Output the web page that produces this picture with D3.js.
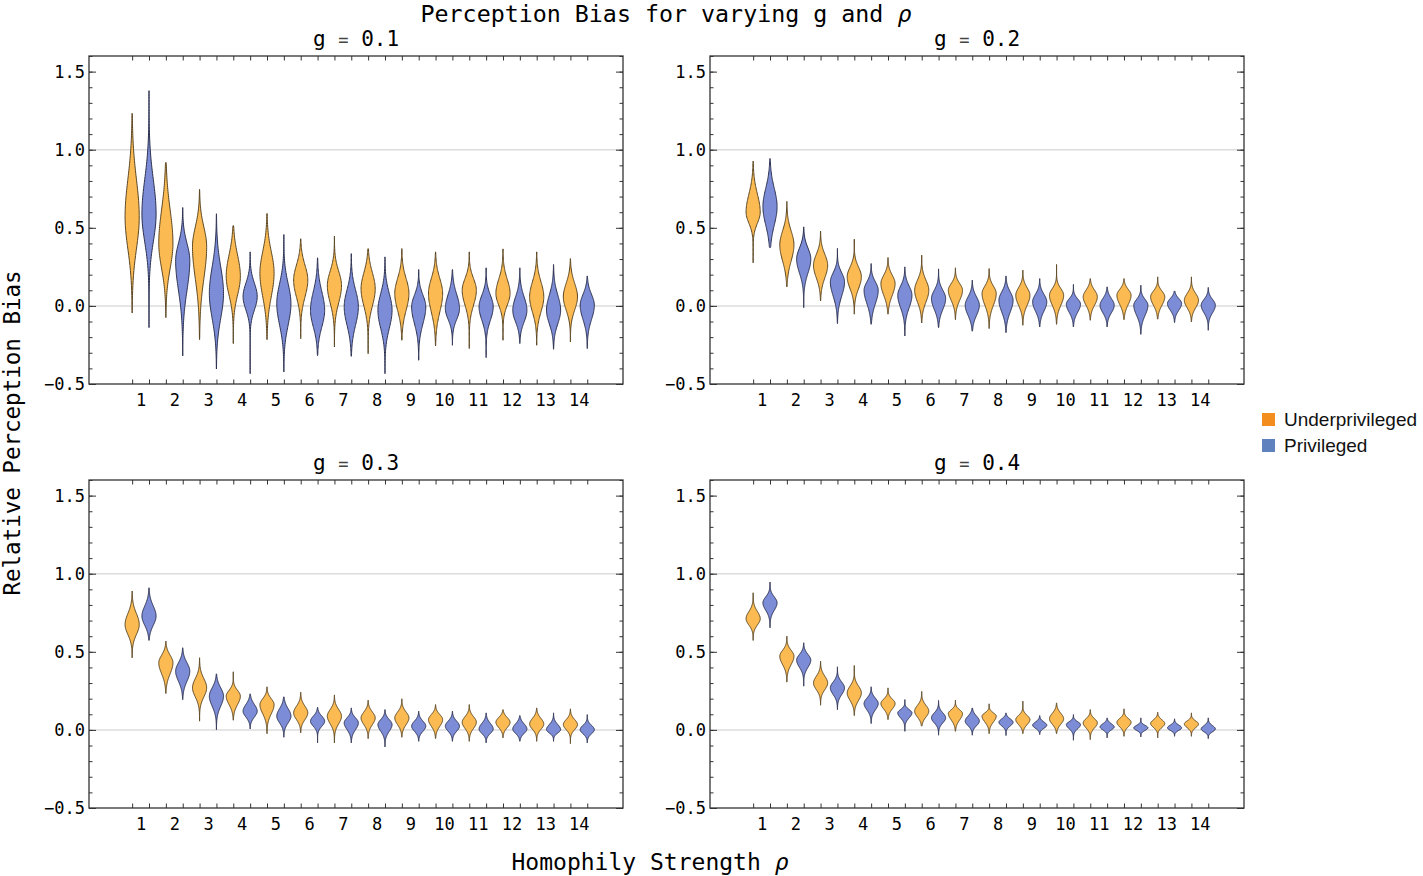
<!DOCTYPE html>
<html><head><meta charset="utf-8">
<script src="https://cdn.jsdelivr.net/npm/d3@7"></script>
<style>body{margin:0;background:#fff} svg{display:block}</style>
</head><body><svg id="c" width="1423" height="876"></svg>
<script>
// ---- data: each violin = [min, bodyLow, mode, bodyHigh, max] ----
const categories = [1,2,3,4,5,6,7,8,9,10,11,12,13,14];
const gValues = ["0.1","0.2","0.3","0.4"];
const seriesNames = ["Underprivileged","Privileged"];
const yTicks = [-0.5,0,0.5,1,1.5];

const g01Under = [[-0.045,0.16,0.57,1.05,1.233],[-0.075,0.08,0.40,0.83,0.919],[-0.216,-0.03,0.38,0.63,0.746],[-0.241,-0.05,0.19,0.46,0.515],[-0.216,-0.09,0.21,0.485,0.592],[-0.21,-0.05,0.165,0.357,0.43],[-0.263,-0.09,0.13,0.314,0.447],[-0.306,-0.11,0.11,0.314,0.367],[-0.22,-0.135,0.08,0.27,0.367],[-0.256,-0.156,0.08,0.27,0.346],[-0.273,-0.09,0.10,0.25,0.346],[-0.22,-0.07,0.08,0.26,0.365],[-0.252,-0.135,0.058,0.25,0.346],[-0.23,-0.11,0.058,0.23,0.303]];
const g01Priv = [[-0.139,0.23,0.59,1.03,1.378],[-0.32,-0.09,0.29,0.51,0.63],[-0.404,-0.24,0.08,0.42,0.59],[-0.434,-0.11,0.06,0.23,0.346],[-0.423,-0.26,0.015,0.27,0.457],[-0.318,-0.24,-0.028,0.21,0.308],[-0.323,-0.24,-0.006,0.21,0.335],[-0.434,-0.26,-0.028,0.186,0.314],[-0.348,-0.22,-0.006,0.143,0.233],[-0.252,-0.156,-0.017,0.165,0.233],[-0.331,-0.177,-0.006,0.143,0.244],[-0.241,-0.177,-0.028,0.143,0.244],[-0.278,-0.2,-0.028,0.165,0.265],[-0.273,-0.177,0.004,0.143,0.192]];
const g02Under = [[0.276,0.46,0.60,0.83,0.927],[0.122,0.186,0.39,0.57,0.669],[0.032,0.10,0.26,0.40,0.479],[-0.053,0.036,0.186,0.31,0.427],[-0.053,-0.006,0.143,0.25,0.31],[-0.109,-0.049,0.10,0.229,0.325],[-0.088,-0.028,0.10,0.186,0.244],[-0.145,-0.07,0.079,0.175,0.239],[-0.124,-0.06,0.068,0.165,0.229],[-0.118,-0.06,0.068,0.154,0.265],[-0.092,-0.049,0.058,0.143,0.175],[-0.088,-0.049,0.068,0.143,0.175],[-0.085,-0.049,0.058,0.132,0.186],[-0.103,-0.06,0.036,0.122,0.186]];
const g02Priv = [[0.372,0.40,0.635,0.87,0.944],[-0.011,0.122,0.30,0.44,0.506],[-0.113,-0.028,0.154,0.27,0.368],[-0.118,-0.07,0.10,0.207,0.271],[-0.192,-0.092,0.068,0.186,0.25],[-0.139,-0.092,0.047,0.154,0.237],[-0.162,-0.124,0.004,0.111,0.165],[-0.171,-0.113,0.036,0.143,0.192],[-0.135,-0.092,0.026,0.122,0.175],[-0.135,-0.092,0.011,0.079,0.137],[-0.135,-0.092,0.004,0.09,0.122],[-0.182,-0.124,0.004,0.079,0.132],[-0.107,-0.07,0.015,0.079,0.096],[-0.156,-0.092,0.004,0.079,0.118]];
const g03Under = [[0.462,0.547,0.675,0.814,0.889],[0.233,0.29,0.43,0.526,0.568],[0.056,0.152,0.27,0.387,0.462],[0.062,0.109,0.216,0.29,0.372],[-0.024,0.045,0.162,0.237,0.276],[-0.019,0.024,0.109,0.194,0.241],[-0.083,-0.009,0.088,0.173,0.224],[-0.056,-0.009,0.077,0.152,0.19],[-0.047,-0.009,0.077,0.152,0.199],[-0.056,-0.019,0.066,0.13,0.162],[-0.073,-0.03,0.049,0.12,0.162],[-0.051,-0.019,0.049,0.109,0.13],[-0.073,-0.03,0.038,0.109,0.141],[-0.088,-0.03,0.034,0.098,0.135]];
const g03Priv = [[0.573,0.611,0.729,0.857,0.91],[0.194,0.248,0.376,0.483,0.526],[0.002,0.088,0.216,0.323,0.359],[0.006,0.045,0.12,0.205,0.231],[-0.047,0.002,0.088,0.184,0.212],[-0.083,-0.009,0.056,0.12,0.145],[-0.083,-0.041,0.045,0.109,0.141],[-0.109,-0.051,0.034,0.098,0.13],[-0.073,-0.041,0.024,0.088,0.12],[-0.073,-0.041,0.024,0.088,0.12],[-0.083,-0.051,0.006,0.077,0.109],[-0.073,-0.051,0.006,0.071,0.092],[-0.073,-0.041,0.002,0.066,0.109],[-0.083,-0.051,0.002,0.056,0.098]];
const g04Under = [[0.573,0.632,0.712,0.803,0.878],[0.306,0.365,0.472,0.547,0.60],[0.158,0.216,0.30,0.387,0.44],[0.092,0.141,0.237,0.323,0.412],[0.066,0.098,0.169,0.226,0.269],[0.024,0.045,0.12,0.194,0.246],[-0.009,0.024,0.105,0.152,0.19],[-0.024,0.013,0.088,0.13,0.167],[-0.024,0.002,0.066,0.12,0.184],[-0.024,0.002,0.071,0.141,0.173],[-0.062,-0.019,0.045,0.098,0.13],[-0.041,-0.009,0.049,0.098,0.135],[-0.051,-0.009,0.041,0.088,0.113],[-0.041,-0.009,0.038,0.077,0.109]];
const g04Priv = [[0.654,0.718,0.814,0.889,0.947],[0.28,0.355,0.447,0.519,0.558],[0.13,0.184,0.269,0.344,0.404],[0.041,0.088,0.169,0.237,0.276],[-0.009,0.045,0.109,0.152,0.194],[-0.034,0.013,0.077,0.141,0.188],[-0.034,-0.002,0.056,0.12,0.141],[-0.036,0.002,0.049,0.092,0.109],[-0.03,-0.009,0.03,0.071,0.092],[-0.066,-0.019,0.034,0.071,0.098],[-0.051,-0.019,0.019,0.06,0.077],[-0.045,-0.019,0.013,0.045,0.077],[-0.041,-0.019,0.013,0.049,0.071],[-0.056,-0.03,0.006,0.049,0.077]];

const panelData = [[g01Under,g01Priv],[g02Under,g02Priv],[g03Under,g03Priv],[g04Under,g04Priv]];

// ---- layout / style ----
const svg = d3.select("#c");
const mono = "'DejaVu Sans Mono', monospace";
const fillCol = ["#FBBB52","#7C8CD6"];
const strokeCol = ["#5a4522","#2c3150"];
const legendCol = ["#F38E1E","#5F81BD"];
const colX = [89, 710], rowY = [56, 480];
const PW = 534, PH = 328;
const offsets = [-0.25, 0.25];
const halfW = 0.21; // in x units

panelData.forEach((pd, pi) => {
  const left = colX[pi % 2], top = rowY[Math.floor(pi / 2)];
  const x = d3.scaleLinear().domain([-0.53, 15.31]).range([left, left + PW]);
  const y = d3.scaleLinear().domain([-0.5, 1.6]).range([top + PH, top]);
  const g = svg.append("g");

  // gridlines
  g.selectAll("line.grid").data([0, 1]).join("line")
    .attr("x1", left).attr("x2", left + PW)
    .attr("y1", d => y(d)).attr("y2", d => y(d))
    .attr("stroke", "#dcdcdc").attr("stroke-width", 1.5);

  // violins
  pd.forEach((series, si) => {
    series.forEach((v, ci) => {
      const [mn, lo, md, hi, mx] = v;
      const cx = categories[ci] + offsets[si];
      const n = 80;
      const pts = d3.range(n + 1).map(k => {
        const yy = mn + (mx - mn) * k / n;
        const t = yy >= md ? (yy - md) / (hi - md) : (md - yy) / (md - lo);
        let w = Math.exp(-2.0 * Math.pow(t, 2));
        if (k === 0 || k === n) w = 0;
        return [yy, w];
      });
      const area = d3.area()
        .y(d => y(d[0]))
        .x0(d => x(cx - halfW * d[1]))
        .x1(d => x(cx + halfW * d[1]))
        .curve(d3.curveLinear);
      g.append("path").attr("d", area(pts))
        .attr("fill", fillCol[si]).attr("stroke", strokeCol[si])
        .attr("stroke-width", 1).attr("stroke-linejoin", "round");
    });
  });

  // ticks
  const violinPos = [];
  categories.forEach(c => offsets.forEach(o => violinPos.push(c + o)));
  const minorY = d3.range(-5, 17).map(k => k / 10);
  const styleAxis = sel => {
    sel.select(".domain").remove();
    sel.selectAll(".tick line").attr("stroke", "#333").attr("stroke-width", 1);
  };
  g.append("g").attr("transform", `translate(0,${top + PH})`)
    .call(d3.axisBottom(x).tickValues(violinPos).tickSize(-4.5).tickFormat(""))
    .call(styleAxis);
  g.append("g").attr("transform", `translate(0,${top})`)
    .call(d3.axisTop(x).tickValues(violinPos).tickSize(-4.5).tickFormat(""))
    .call(styleAxis);
  const xl = g.append("g").attr("transform", `translate(0,${top + PH})`)
    .call(d3.axisBottom(x).tickValues(categories).tickSize(0).tickPadding(10).tickFormat(d3.format("d")));
  xl.select(".domain").remove();
  xl.selectAll("text").attr("font-family", mono).attr("font-size", 17).attr("fill", "#000");

  [[left, d3.axisLeft], [left + PW, d3.axisRight]].forEach(([px, ax], k) => {
    g.append("g").attr("transform", `translate(${px},0)`)
      .call(ax(y).tickValues(minorY).tickSize(-3.5).tickFormat("")).call(styleAxis);
    const a = g.append("g").attr("transform", `translate(${px},0)`)
      .call(ax(y).tickValues(yTicks).tickSize(-7).tickPadding(k === 0 ? 4 : 0)
        .tickFormat(k === 0 ? (d => d3.format(".1f")(d).replace("-", "\u2212")) : ""));
    styleAxis(a);
    a.selectAll("text").attr("font-family", mono).attr("font-size", 17).attr("fill", "#000");
  });

  // frame
  g.append("rect").attr("x", left).attr("y", top).attr("width", PW).attr("height", PH)
    .attr("fill", "none").attr("stroke", "#333").attr("stroke-width", 1.3);

  // panel title
  const tt = g.append("text").attr("x", left + PW / 2).attr("y", top - 10)
    .attr("text-anchor", "middle").attr("font-family", mono).attr("font-size", 21);
  tt.append("tspan").text("g ");
  tt.append("tspan").attr("fill", "#444").attr("font-size", 17).text("=");
  tt.append("tspan").text(" " + gValues[pi]);
});

// main title
const mt = svg.append("text").attr("x", 666).attr("y", 22).attr("text-anchor", "middle")
  .attr("font-family", mono).attr("font-size", 23.3);
mt.append("tspan").text("Perception Bias for varying g and ");
mt.append("tspan").attr("font-style", "italic").text("\u03C1");

// axis labels
const xt = svg.append("text").attr("x", 650).attr("y", 870).attr("text-anchor", "middle")
  .attr("font-family", mono).attr("font-size", 23);
xt.append("tspan").text("Homophily Strength ");
xt.append("tspan").attr("font-style", "italic").text("\u03C1");
svg.append("text").attr("transform", "translate(20,433) rotate(-90)").attr("text-anchor", "middle")
  .attr("font-family", mono).attr("font-size", 22.5).text("Relative Perception Bias");

// legend
seriesNames.forEach((s, i) => {
  svg.append("rect").attr("x", 1262).attr("y", 413 + i * 26).attr("width", 13).attr("height", 13)
    .attr("fill", legendCol[i]);
  svg.append("text").attr("x", 1284).attr("y", 426 + i * 26).attr("font-family", "'Liberation Sans', Arial, sans-serif")
    .attr("font-size", 19).attr("fill", "#111").text(s);
});
</script></body></html>
